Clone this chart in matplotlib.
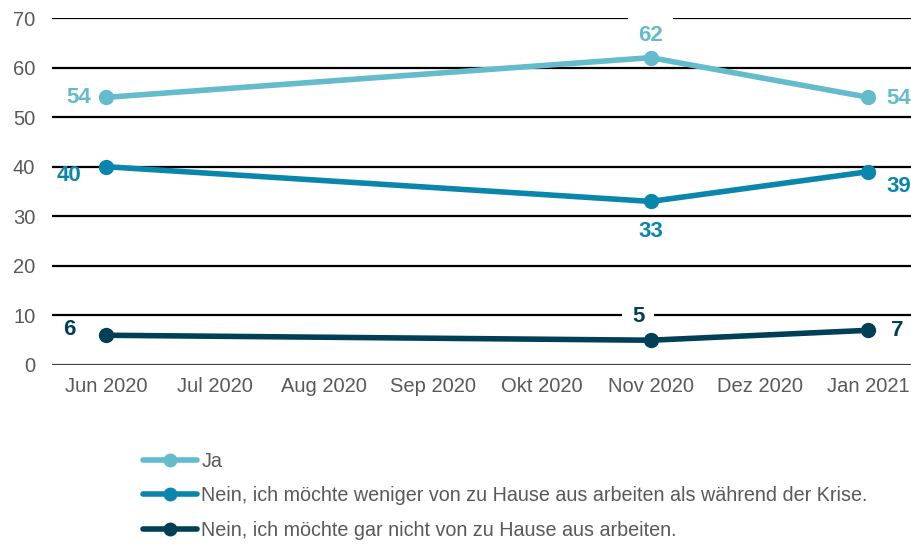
import matplotlib
matplotlib.use("Agg")
import matplotlib.pyplot as plt
from matplotlib import font_manager

categories = ["Jun 2020", "Jul 2020", "Aug 2020", "Sep 2020", "Okt 2020", "Nov 2020", "Dez 2020", "Jan 2021"]
data_idx = [0, 5, 7]
series_names = [
    "Ja",
    "Nein, ich möchte weniger von zu Hause aus arbeiten als während der Krise.",
    "Nein, ich möchte gar nicht von zu Hause aus arbeiten.",
]
ja = [54, 62, 54]
weniger = [40, 33, 39]
gar_nicht = [6, 5, 7]
yticks = [0, 10, 20, 30, 40, 50, 60, 70]

colors = ["#62BCCB", "#0A86AD", "#003F55"]

names = {f.name for f in font_manager.fontManager.ttflist}
fam = "Liberation Sans Narrow" if "Liberation Sans Narrow" in names else "Liberation Sans"
plt.rcParams["font.family"] = [fam, "DejaVu Sans"]

W, H = 912, 547
fig = plt.figure(figsize=(W / 100, H / 100), dpi=100)
ax = fig.add_axes([52 / W, 1 - 365 / H, (912 - 52) / W, (365 - 18) / H])

for y in yticks:
    ax.axhline(y, color="black" if y > 0 else "#404040", lw=1.6, zorder=1)

all_series = [ja, weniger, gar_nicht]
for vals, name, c in zip(all_series, series_names, colors):
    ax.plot(data_idx, vals, color=c, lw=4, marker="o", ms=10, label=name,
            solid_capstyle="round", zorder=3)

# label offsets (points) per series per point
offsets = [
    [(-20, 0), (0, 16), (22, -1)],
    [(-27, -6), (0, -22), (22, -11)],
    [(-27, 4), (-9, 17), (21, 0)],
]
boxed = [[False, True, False], [False, False, False], [False, True, False]]
for vals, c, offs, bx in zip(all_series, colors, offsets, boxed):
    for xi, v, off, b in zip(data_idx, vals, offs, bx):
        kw = {}
        if b:
            kw["bbox"] = dict(boxstyle="square,pad=0.45", fc="white", ec="none")
        ax.annotate(str(v), (xi, v), xytext=off, textcoords="offset points",
                    ha="center", va="center", fontsize=16, fontweight="bold",
                    color=c, zorder=2, **kw)

ax.set_xlim(-0.5, 7.4)
ax.set_ylim(0, 70)
ax.set_xticks(range(len(categories)))
ax.set_xticklabels(categories)
ax.set_yticks(yticks)
ax.tick_params(length=0, labelsize=14.5, colors="#595959", pad=9)
ax.tick_params(axis="y", pad=12)
for s in ax.spines.values():
    s.set_visible(False)

leg = fig.legend(loc="upper left", bbox_to_anchor=(143 / W, 1 - 452 / H),
                 frameon=False, fontsize=14.2, handlelength=2.75, handletextpad=0.2,
                 labelspacing=0.78, numpoints=1, borderaxespad=0, borderpad=0)
for t in leg.get_texts():
    t.set_color("#595959")
for h in leg.legend_handles:
    h.set_markersize(9)

fig.savefig("out.png", dpi=100)
